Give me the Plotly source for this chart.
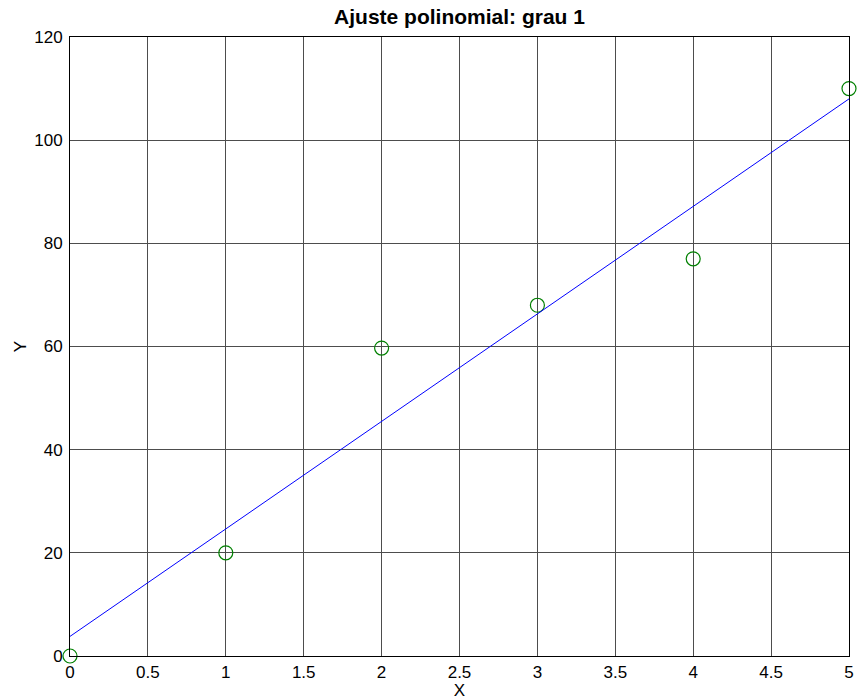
import plotly.graph_objects as go

x_data = [0, 1, 2, 3, 4, 5]
y_data = [0, 20, 59.7, 68, 77, 110]
fit_x = [0, 5]
fit_y = [3.8, 108]
x_ticks = [0, 0.5, 1, 1.5, 2, 2.5, 3, 3.5, 4, 4.5, 5]
x_tick_labels = ["0", "0.5", "1", "1.5", "2", "2.5", "3", "3.5", "4", "4.5", "5"]
y_ticks = [0, 20, 40, 60, 80, 100, 120]
y_tick_labels = ["0", "20", "40", "60", "80", "100", "120"]

fig = go.Figure()
fig.add_trace(go.Scatter(x=x_data, y=y_data, mode="markers",
                         marker=dict(symbol="circle-open", size=14, color="rgb(0,128,0)", line=dict(width=1.2)),
                         cliponaxis=False, showlegend=False))
fig.add_trace(go.Scatter(x=fit_x, y=fit_y, mode="lines",
                         line=dict(color="rgb(0,0,255)", width=1), showlegend=False))

fam = "Liberation Sans, Arial, sans-serif"
font = dict(family=fam, size=17, color="black")
fig.update_layout(
    width=859, height=700,
    margin=dict(l=70, r=5, t=37, b=44),
    paper_bgcolor="white", plot_bgcolor="white",
    font=font,
    title=dict(text="<b>Ajuste polinomial: grau 1</b>", x=0.5, xref="paper", xanchor="center",
               y=1 - 17 / 700, yref="container", yanchor="middle",
               font=dict(family=fam, size=21, color="black")),
    xaxis=dict(range=[0, 5], tickvals=x_ticks, ticktext=x_tick_labels,
               showgrid=True, gridcolor="#4d4d4d", gridwidth=1,
               showline=True, linecolor="black", linewidth=1, mirror=True,
               zeroline=False, ticks="", ticklabelstandoff=1,
               title=dict(text="X", standoff=0, font=font)),
    yaxis=dict(range=[0, 120], tickvals=y_ticks, ticktext=y_tick_labels,
               showgrid=True, gridcolor="#4d4d4d", gridwidth=1,
               showline=True, linecolor="black", linewidth=1, mirror=True,
               zeroline=False, ticks="", ticklabelstandoff=3,
               title=dict(text="Y", standoff=3, font=font)),
)
fig.write_html("out.html")
